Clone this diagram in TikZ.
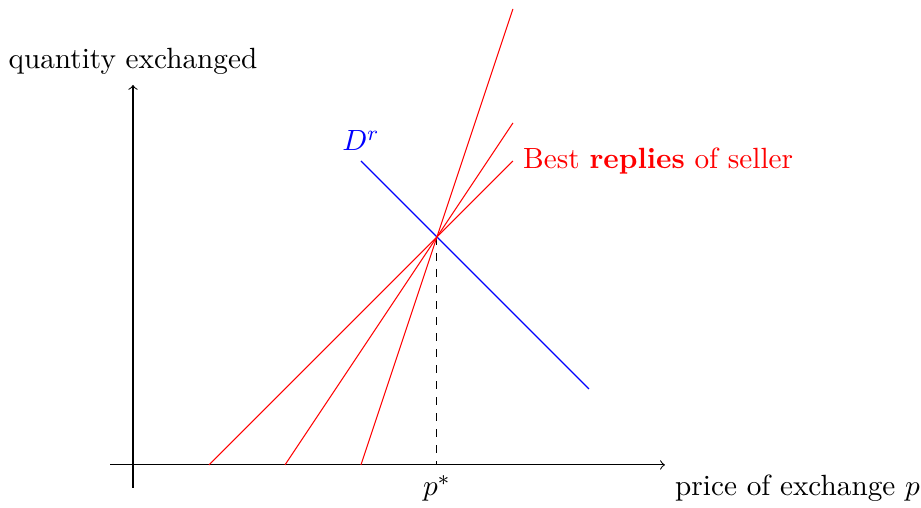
\documentclass[tikz,border=0pt,11pt]{standalone}
\usepackage{amsmath, amssymb}
\usepackage{xcolor}
\usepackage{tikz}

\begin{document}
\begin{tikzpicture}
  \useasboundingbox (-1.75,-0.566) rectangle (10.37,6.118);
  \coordinate (xstart) at (-0.3,0);
  \coordinate (xend) at (7,0);
  \coordinate (ystart) at (0,-0.3);
  \coordinate (yend) at (0,5);
  \coordinate (eq) at (4,3);
  \coordinate (pstar) at (4,0);
  \draw[->] (xstart) -- (xend);
  \draw[->] (ystart) -- (yend);
  \node[above] (ylab) at (yend) {quantity exchanged};
  \node[below right] (xlab) at (xend) {price of exchange $p$};
  \draw[dashed] (eq) -- (pstar);
  \node[below] (plab) at (pstar) {$p^*$};
  % demand
  \coordinate (d1) at (3,4);
  \coordinate (d2) at (6,1);
  \draw[blue] (d1) -- (d2);
  \node[above,blue] (dlab) at (d1) {$D^r$};
  % best replies
  \coordinate (r1) at (1,0);
  \coordinate (r2) at (2,0);
  \coordinate (r3) at (3,0);
  \coordinate (s1) at (5,4);
  \coordinate (s2) at (5,4.5);
  \coordinate (s3) at (5,6);
  \draw[red] (r1) -- (s1);
  \draw[red] (r2) -- (s2);
  \draw[red] (r3) -- (s3);
  \node[right,red] (rlab) at (s1) {Best \textbf{replies} of seller};
\end{tikzpicture}
\end{document}
